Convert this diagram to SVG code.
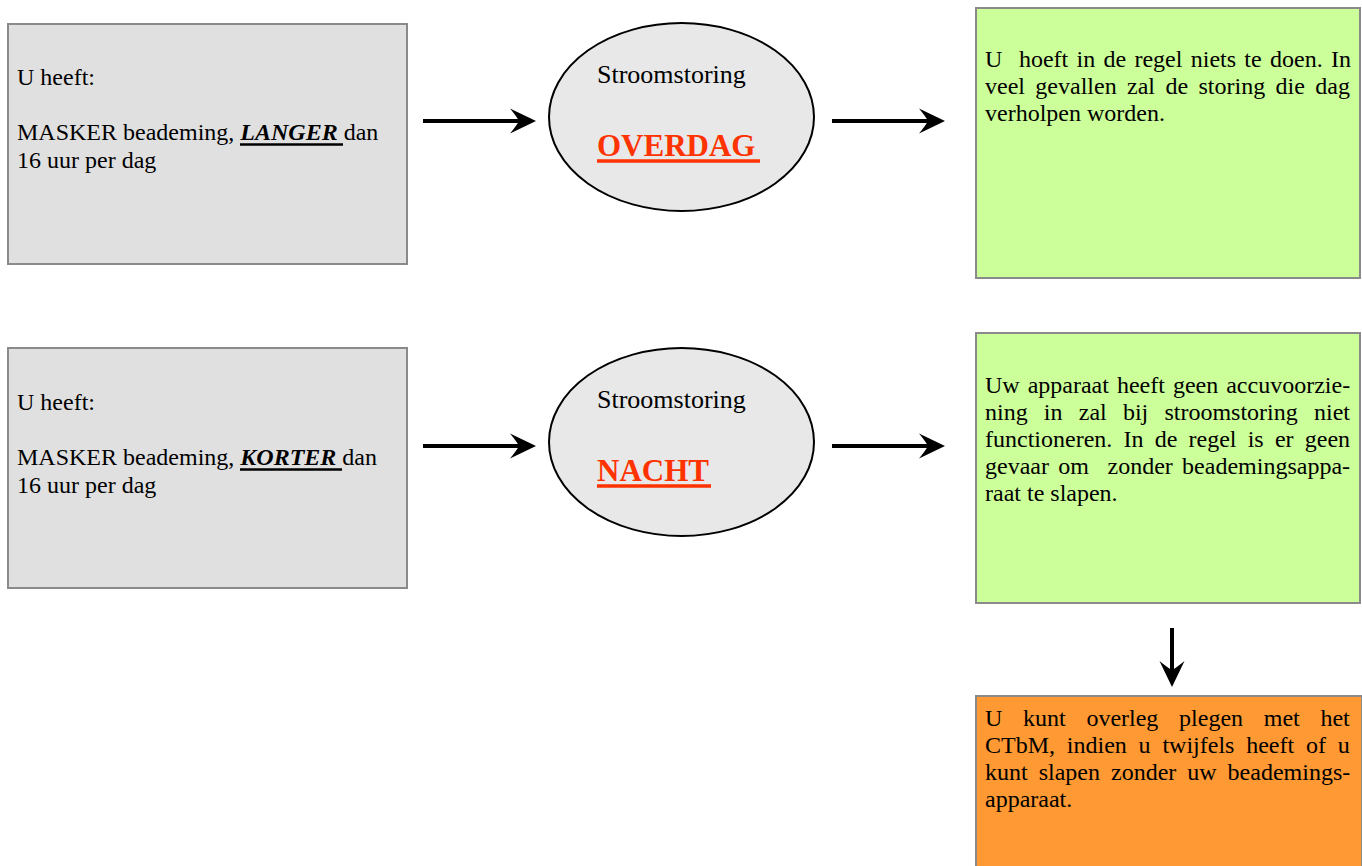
<svg xmlns="http://www.w3.org/2000/svg" width="1362" height="866" viewBox="0 0 1362 866">
<defs>
<style>
.box{stroke:#8a8a8a;stroke-width:2}
.grey{fill:#e0e0e0}
.green{fill:#ccff99}
.orange{fill:#ff9933}
.oval{fill:#e8e8e8;stroke:#000;stroke-width:2}
text{font-family:"Liberation Serif","Times New Roman",serif;fill:#000}
.t{font-size:24px}
.s{font-size:26px}
.big{font-size:31px;font-weight:bold;fill:#ff3300}
.bi{font-weight:bold;font-style:italic}
.ul{stroke:#000;stroke-width:2.6}
.ulr{stroke:#ff3300;stroke-width:3.6}
.conn{stroke:#000;stroke-width:4;fill:none;marker-end:url(#ah)}
</style>
<marker id="ah" viewBox="-27 -14 28 28" refX="-12" refY="0" markerWidth="28" markerHeight="28" markerUnits="userSpaceOnUse" orient="auto">
<path d="M0,0 L-26,-12.5 Q-19,-4 -17,0 Q-19,4 -26,12.5 Z" fill="#000"/>
</marker>
</defs>
<rect width="1362" height="866" fill="#fff"/>

<g id="connectors">
<line class="conn" x1="423" y1="121" x2="524" y2="121"/>
<line class="conn" x1="832" y1="121" x2="933" y2="121"/>
<line class="conn" x1="423" y1="446" x2="524" y2="446"/>
<line class="conn" x1="832" y1="446" x2="933" y2="446"/>
<line class="conn" x1="1172" y1="628" x2="1172" y2="675"/>
</g>

<g id="box-langer">
<rect class="box grey" x="8" y="24" width="399" height="240"/>
<text class="t" x="17" y="85">U heeft:</text>
<text class="t" x="17" y="140">MASKER beademing, <tspan class="bi">LANGER </tspan>dan</text>
<text class="t" x="17" y="167.5">16 uur per dag</text>
<line class="ul" x1="240" y1="144.5" x2="343" y2="144.5"/>
</g>

<g id="oval-overdag">
<ellipse class="oval" cx="681.5" cy="117" rx="132.5" ry="94"/>
<text class="s" x="597" y="83">Stroomstoring</text>
<text class="big" x="597" y="156">OVERDAG</text>
<line class="ulr" x1="597" y1="161" x2="760" y2="161"/>
</g>

<g id="box-overdag-advies">
<rect class="box green" x="976" y="8" width="384" height="270"/>
<text class="t" x="985" y="67" xml:space="preserve" word-spacing="2.3">U  hoeft in de regel niets te doen. In</text>
<text class="t" x="985" y="94" word-spacing="4.4">veel gevallen zal de storing die dag</text>
<text class="t" x="985" y="121">verholpen worden.</text>
</g>

<g id="box-korter">
<rect class="box grey" x="8" y="348" width="399" height="240"/>
<text class="t" x="17" y="410">U heeft:</text>
<text class="t" x="17" y="465">MASKER beademing, <tspan class="bi">KORTER </tspan>dan</text>
<text class="t" x="17" y="492.5">16 uur per dag</text>
<line class="ul" x1="240" y1="469.5" x2="342" y2="469.5"/>
</g>

<g id="oval-nacht">
<ellipse class="oval" cx="681.5" cy="442" rx="132.5" ry="94"/>
<text class="s" x="597" y="408">Stroomstoring</text>
<text class="big" x="597" y="481">NACHT</text>
<line class="ulr" x1="597" y1="486" x2="711" y2="486"/>
</g>

<g id="box-nacht-advies">
<rect class="box green" x="976" y="333" width="384" height="270"/>
<text class="t" x="985" y="393" word-spacing="2.0">Uw apparaat heeft geen accuvoorzie-</text>
<text class="t" x="985" y="420" word-spacing="10.2">ning in zal bij stroomstoring niet</text>
<text class="t" x="985" y="447" word-spacing="5.2">functioneren. In de regel is er geen</text>
<text class="t" x="985" y="474" xml:space="preserve" word-spacing="3.3">gevaar om  zonder beademingsappa-</text>
<text class="t" x="985" y="501">raat te slapen.</text>
</g>

<g id="box-overleg">
<rect class="box orange" x="976" y="696" width="386" height="175"/>
<text class="t" x="985" y="726" word-spacing="14.7">U kunt overleg plegen met het</text>
<text class="t" x="985" y="753" word-spacing="5.8">CTbM, indien u twijfels heeft of u</text>
<text class="t" x="985" y="780" word-spacing="5.0">kunt slapen zonder uw beademings-</text>
<text class="t" x="985" y="807">apparaat.</text>
</g>
</svg>
